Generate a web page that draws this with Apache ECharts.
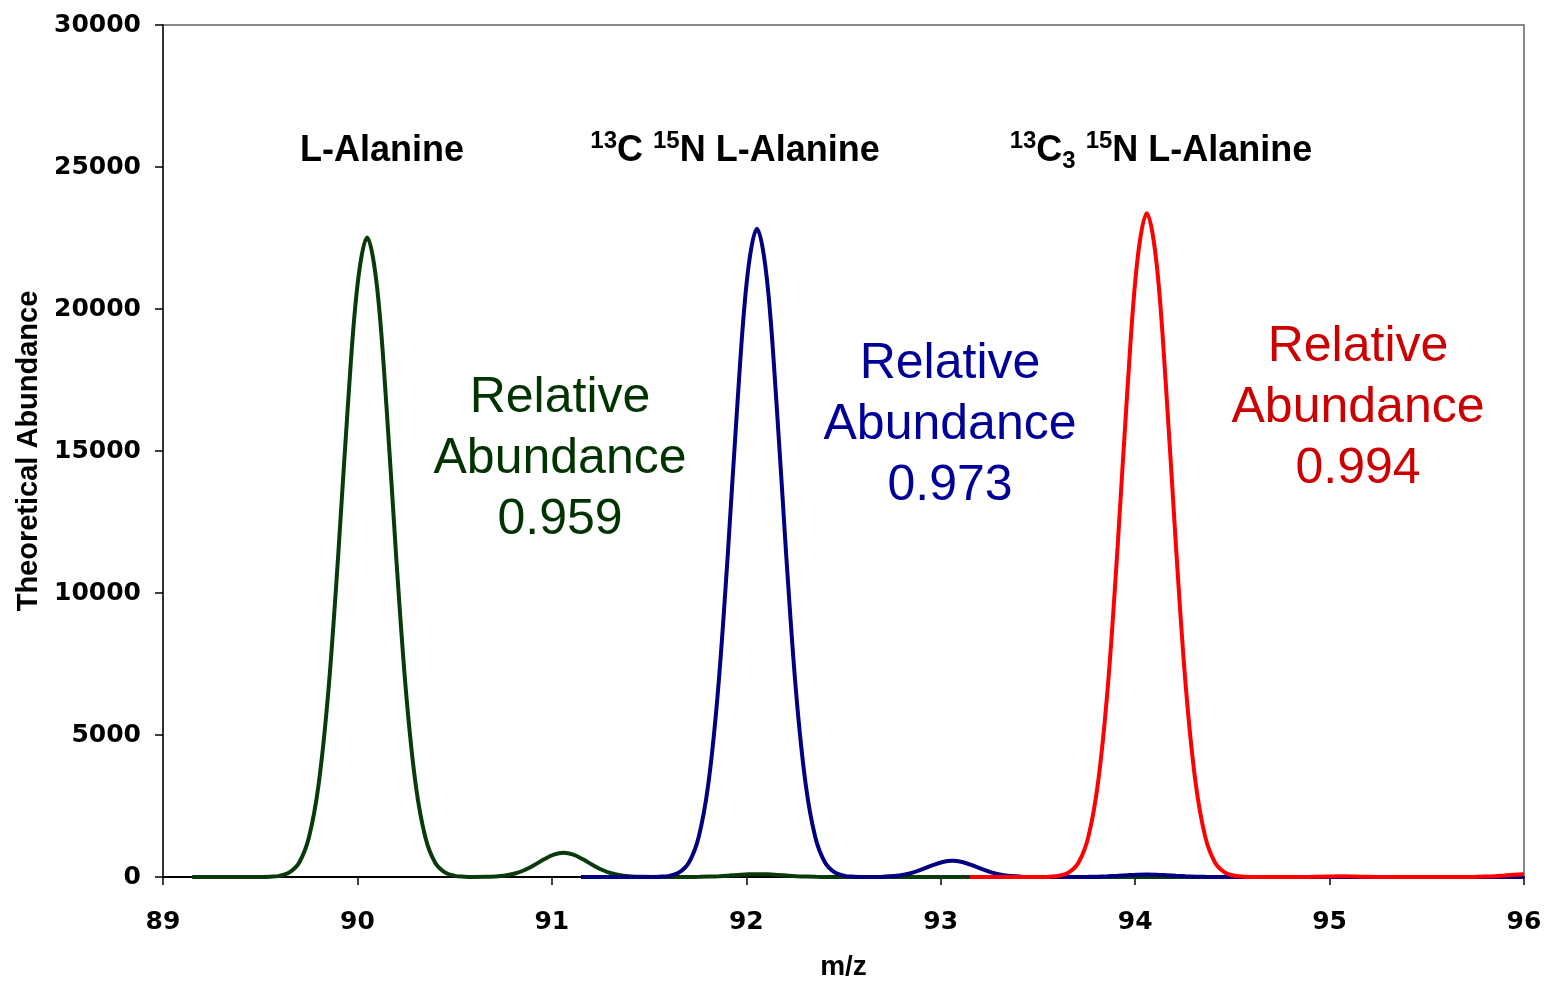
<!DOCTYPE html>
<html>
<head>
<meta charset="utf-8">
<script src="https://cdn.jsdelivr.net/npm/echarts@6/dist/echarts.min.js"></script>
<style>
  html, body { margin: 0; padding: 0; background: #fff; }
  #chart { width: 1544px; height: 984px; }
</style>
</head>
<body>
<div id="chart"></div>
<script>
// [m/z, abundance]
const greenPeak = [
  [89.15, 0], [89.30, 0], [89.45, 0], [89.50, 2], [89.55, 10], [89.60, 40], [89.65, 160],
  [89.70, 500], [89.75, 1380], [89.80, 3240], [89.85, 6510], [89.90, 11210], [89.95, 16510],
  [90.00, 20830], [90.05, 22520], [90.10, 20830], [90.15, 16510], [90.20, 11210], [90.25, 6510],
  [90.30, 3240], [90.35, 1380], [90.40, 500], [90.45, 160], [90.50, 40], [90.55, 12], [90.60, 4],
  [90.66, 6], [90.71, 19], [90.76, 52], [90.81, 122], [90.86, 246], [90.91, 423], [90.96, 623],
  [91.01, 786], [91.06, 850], [91.11, 786], [91.16, 623], [91.21, 423], [91.26, 246], [91.31, 122],
  [91.36, 52], [91.41, 19], [91.46, 6], [91.55, 2], [91.66, 1], [91.71, 2], [91.76, 6], [91.81, 14],
  [91.86, 29], [91.91, 50], [91.96, 73], [92.01, 93], [92.06, 100], [92.11, 93], [92.16, 73],
  [92.21, 50], [92.26, 29], [92.31, 14], [92.36, 6], [92.41, 2], [92.46, 1], [92.60, 0],
  [93.00, 0], [93.50, 0], [94.00, 0], [94.55, 0]
];
const bluePeak = [
  [91.15, 0], [91.30, 0], [91.45, 0], [91.505, 2], [91.555, 10], [91.605, 40], [91.655, 160],
  [91.705, 510], [91.755, 1400], [91.805, 3290], [91.855, 6600], [91.905, 11370], [91.955, 16730],
  [92.005, 21120], [92.055, 22830], [92.105, 21120], [92.155, 16730], [92.205, 11370], [92.255, 6600],
  [92.305, 3290], [92.355, 1400], [92.405, 510], [92.455, 160], [92.505, 40], [92.555, 12], [92.605, 4],
  [92.66, 4], [92.71, 13], [92.76, 35], [92.81, 82], [92.86, 165], [92.91, 284], [92.96, 418],
  [93.01, 527], [93.06, 570], [93.11, 527], [93.16, 418], [93.21, 284], [93.26, 165], [93.31, 82],
  [93.36, 35], [93.41, 13], [93.46, 4], [93.55, 1], [93.66, 1], [93.71, 2], [93.76, 5], [93.81, 12],
  [93.86, 25], [93.91, 42], [93.96, 62], [94.01, 79], [94.06, 85], [94.11, 79], [94.16, 62],
  [94.21, 42], [94.26, 25], [94.31, 12], [94.36, 5], [94.41, 2], [94.46, 1], [94.60, 0],
  [95.00, 0], [95.50, 0], [96.00, 0]
];
const redPeak = [
  [93.15, 0], [93.30, 0], [93.45, 0], [93.51, 2], [93.56, 10], [93.61, 44], [93.66, 165],
  [93.71, 520], [93.76, 1430], [93.81, 3370], [93.86, 6750], [93.91, 11640], [93.96, 17130],
  [94.01, 21620], [94.06, 23370], [94.11, 21620], [94.16, 17130], [94.21, 11640], [94.26, 6750],
  [94.31, 3370], [94.36, 1430], [94.41, 520], [94.46, 165], [94.51, 44], [94.56, 10], [94.61, 3],
  [94.70, 0], [94.85, 0], [94.96, 12], [95.01, 22], [95.06, 25], [95.11, 22], [95.16, 12],
  [95.30, 0], [95.50, 0], [95.70, 3], [95.75, 6], [95.80, 14], [95.85, 30], [95.90, 55],
  [95.95, 80], [96.00, 100]
];

const seriesNames = ['L-Alanine', '13C 15N L-Alanine', '13C3 15N L-Alanine'];
const lineColors = ['#0a3a0a', '#000080', '#ff0000'];
const textColors = ['#003300', '#000099', '#cc0000'];
const relAbundance = ['0.959', '0.973', '0.994'];

const chart = echarts.init(document.getElementById('chart'));

const boldFont = 'Liberation Sans';
const titleRich = {
  b: { fontSize: 36, fontWeight: 'bold', fontFamily: boldFont, color: '#000', lineHeight: 44 },
  sup: { fontSize: 24, fontWeight: 'bold', fontFamily: boldFont, color: '#000', lineHeight: 34, verticalAlign: 'top' },
  sub: { fontSize: 24, fontWeight: 'bold', fontFamily: boldFont, color: '#000', lineHeight: 19, verticalAlign: 'bottom' }
};

function peakTitle(text, x) {
  return {
    type: 'text', z: 100,
    style: { x: x, y: 151, text: text, align: 'center', verticalAlign: 'middle', rich: titleRich }
  };
}
function relText(i, x, y) {
  return {
    type: 'text', z: 100,
    style: {
      x: x, y: y, text: 'Relative\nAbundance\n' + relAbundance[i],
      align: 'center', verticalAlign: 'middle',
      fontSize: 50, lineHeight: 61, fontFamily: 'Liberation Sans', fill: textColors[i]
    }
  };
}

const option = {
  animation: false,
  backgroundColor: '#fff',
  grid: {
    left: 163, right: 20, top: 25, bottom: 107,
    containLabel: false, outerBoundsMode: 'none',
    show: true, borderColor: '#888', borderWidth: 2
  },
  xAxis: {
    type: 'value', min: 89, max: 96, interval: 1,
    name: 'm/z', nameLocation: 'middle', nameGap: 76,
    nameTextStyle: { fontFamily: boldFont, fontWeight: 'bold', fontSize: 28, color: '#000' },
    axisLine: { lineStyle: { color: '#000', width: 2 } },
    axisTick: { length: 8, lineStyle: { color: '#000', width: 1.5 } },
    axisLabel: { margin: 33, fontFamily: 'DejaVu Sans', fontWeight: 'bold', fontSize: 25, color: '#000' },
    splitLine: { show: false }
  },
  yAxis: {
    type: 'value', min: 0, max: 30000, interval: 5000,
    name: 'Theoretical Abundance', nameLocation: 'middle', nameGap: 120,
    nameTextStyle: { fontFamily: boldFont, fontWeight: 'bold', fontSize: 29, color: '#000' },
    axisLine: { show: true, lineStyle: { color: '#333', width: 2 } },
    axisTick: { show: true, length: 8, lineStyle: { color: '#000', width: 1.5 } },
    axisLabel: {
      margin: 22, fontFamily: 'DejaVu Sans', fontWeight: 'bold', fontSize: 25, color: '#000',
      formatter: v => String(v)
    },
    splitLine: { show: false }
  },
  series: [greenPeak, bluePeak, redPeak].map((d, i) => ({
    name: seriesNames[i],
    type: 'line',
    data: d,
    smooth: 0.35,
    showSymbol: false,
    clip: true,
    lineStyle: { color: lineColors[i], width: 4 }
  })),
  graphic: [
    peakTitle('{b|L-Alanine}', 382),
    peakTitle('{sup|13}{b|C }{sup|15}{b|N L-Alanine}', 735),
    peakTitle('{sup|13}{b|C}{sub|3}{b| }{sup|15}{b|N L-Alanine}', 1161),
    relText(0, 560, 459),
    relText(1, 950, 425),
    relText(2, 1358, 408)
  ]
};
chart.setOption(option);
</script>
</body>
</html>
